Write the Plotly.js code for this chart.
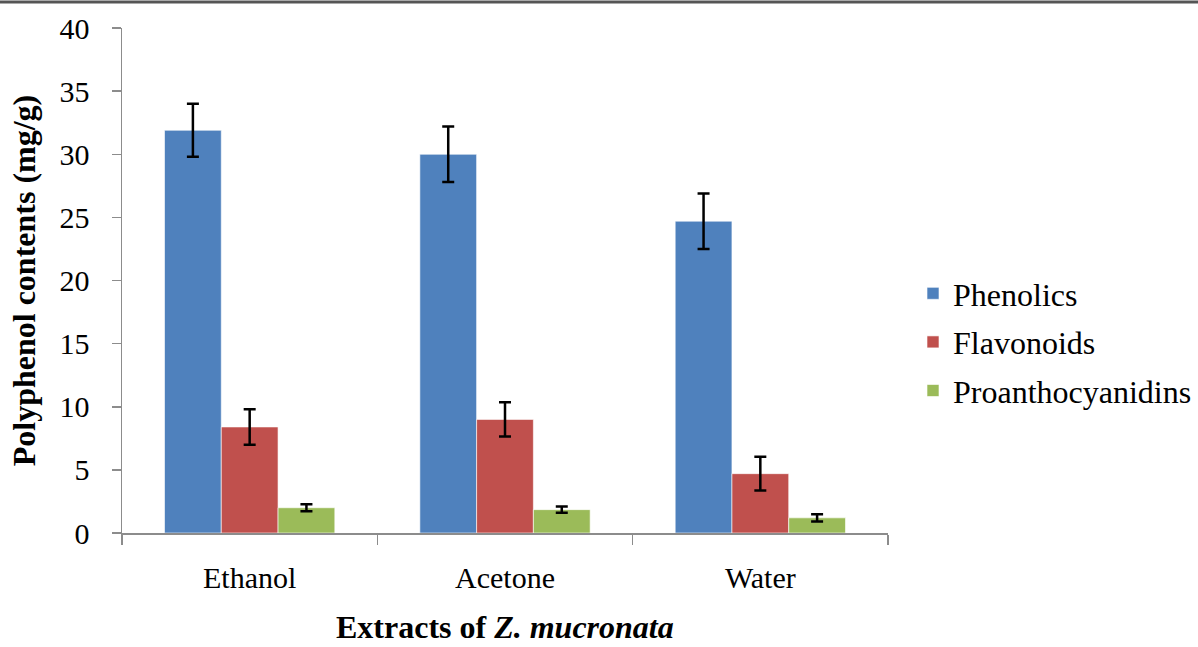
<!DOCTYPE html>
<html>
<head>
<meta charset="utf-8">
<script src="https://cdn.plot.ly/plotly-3.0.1.min.js"></script>
<style>
html, body { margin: 0; padding: 0; background: #fff; }
#chart { width: 1198px; height: 647px; }
</style>
</head>
<body>
<div id="chart"></div>
<script>
var categories = ["Ethanol", "Acetone", "Water"];
var seriesNames = ["Phenolics", "Flavonoids", "Proanthocyanidins"];
var phenolics = [31.9, 30.0, 24.7];
var phenolicsErr = [2.1, 2.2, 2.2];
var flavonoids = [8.4, 9.0, 4.7];
var flavonoidsErr = [1.4, 1.35, 1.33];
var proantho = [2.0, 1.85, 1.2];
var proanthoErr = [0.27, 0.25, 0.28];
var yTicks = [0, 5, 10, 15, 20, 25, 30, 35, 40];
var xTitle = "<b>Extracts of <i>Z. mucronata</i></b>";
var yTitle = "<b>Polyphenol contents (mg/g)</b>";

var colors = ["#4F81BD", "#C0504D", "#9BBB59"];
var values = [phenolics, flavonoids, proantho];
var errs = [phenolicsErr, flavonoidsErr, proanthoErr];

var traces = seriesNames.map(function (name, i) {
  return {
    type: "bar",
    name: name,
    legendgroup: "g" + i,
    x: categories,
    y: values[i],
    marker: { color: colors[i], line: { color: "rgba(255,255,255,0.6)", width: 1 } },
    error_y: { type: "data", array: errs[i], visible: true, color: "#000", thickness: 2.5, width: 6 }
  };
});

var font = "'Liberation Serif', 'Times New Roman', serif";
var W = 1198, H = 647;
var L = 122, R = 888, T = 28, B = 533;
var pw = R - L, ph = B - T;

var layout = {
  width: W, height: H,
  margin: { l: L, r: W - R, t: T, b: H - B, pad: 0, autoexpand: false },
  paper_bgcolor: "#fff", plot_bgcolor: "#fff",
  font: { family: font, color: "#000", size: 30 },
  barmode: "group",
  bargap: 0.333,
  bargroupgap: 0,
  showlegend: true,
  legend: {
    xref: "container", yref: "container",
    x: 913 / W, xanchor: "left",
    y: 1 - 342 / H, yanchor: "middle",
    font: { family: font, size: 32, color: "#000" },
    traceorder: "grouped",
    tracegroupgap: 4,
    bgcolor: "rgba(0,0,0,0)"
  },
  xaxis: {
    type: "category",
    showline: true, linecolor: "#8c8c8c", linewidth: 1.5,
    ticks: "outside", ticklen: 10, tickcolor: "#8c8c8c", tickwidth: 1.5,
    tickson: "boundaries",
    ticklabelstandoff: 17,
    tickfont: { family: font, size: 30, color: "#000" },
    showgrid: false, zeroline: false,
    automargin: false
  },
  yaxis: {
    range: [0, 40],
    tickvals: yTicks,
    ticktext: yTicks.map(String),
    showline: true, linecolor: "#8c8c8c", linewidth: 1.5,
    ticks: "outside", ticklen: 9, tickcolor: "#8c8c8c", tickwidth: 1.5,
    ticklabelstandoff: 16,
    tickfont: { family: font, size: 30, color: "#000" },
    showgrid: false, zeroline: false,
    automargin: false,
    title: {
      text: yTitle,
      font: { family: font, size: 32, color: "#000" },
      standoff: 14
    }
  },
  annotations: [{
    text: xTitle,
    xref: "paper", yref: "paper",
    x: 0.5, xanchor: "center",
    y: (B - 627) / ph, yanchor: "middle",
    showarrow: false,
    font: { family: font, size: 32, color: "#000" }
  }],
  shapes: [{
    type: "line", xref: "paper", yref: "paper",
    x0: -L / pw, x1: (W - L) / pw,
    y0: 1 + (T - 2) / ph, y1: 1 + (T - 2) / ph,
    line: { color: "#555", width: 3 }
  }]
};

Plotly.newPlot("chart", traces, layout, { displayModeBar: false, staticPlot: true });
</script>
</body>
</html>
